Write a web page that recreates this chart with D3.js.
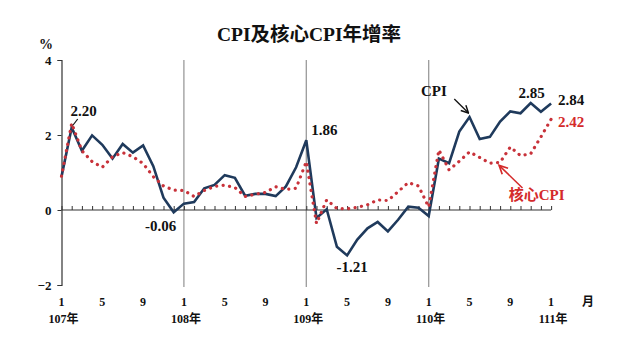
<!DOCTYPE html>
<html><head><meta charset="utf-8">
<script src="https://cdn.jsdelivr.net/npm/d3@7"></script>
<style>
html,body{margin:0;padding:0;background:#fff;}
svg{display:block;}
text{font-family:"Liberation Serif","Times New Roman","Noto Sans CJK TC",serif;font-weight:bold;}
</style></head>
<body>
<script>
// ---- data ----
const yearLabels = ["107年","108年","109年","110年","111年"];
const monthLabels = ["1","5","9"];
const yTicks = [-2, 0, 2, 4];
const cpi = [0.89,2.20,1.58,1.99,1.74,1.37,1.76,1.53,1.72,1.17,0.33,-0.06,
             0.17,0.21,0.58,0.67,0.93,0.86,0.38,0.43,0.43,0.37,0.63,1.14,
             1.86,-0.21,0.02,-0.98,-1.21,-0.79,-0.49,-0.32,-0.57,-0.26,0.09,0.06,
             -0.16,1.37,1.25,2.09,2.48,1.89,1.95,2.36,2.63,2.58,2.85,2.62,
             2.84];
const core = [0.90,2.31,1.58,1.29,1.14,1.42,1.53,1.42,1.24,0.89,0.64,0.53,
              0.52,0.36,0.52,0.63,0.66,0.60,0.36,0.42,0.47,0.62,0.55,0.58,
              1.29,-0.36,0.27,0.04,0.03,0.07,0.14,0.27,0.25,0.49,0.73,0.64,
              0.08,1.60,1.07,1.30,1.55,1.40,1.25,1.27,1.68,1.45,1.50,1.95,
              2.42];

const W = 640, H = 359;
const navy = "#1f3a5c", red = "#d42a2a", grid = "#9a9a9a";
const svg = d3.select("body").append("svg").attr("width", W).attr("height", H);

const x = d3.scaleLinear().domain([0, 48]).range([61.5, 551.1]);
const y = d3.scaleLinear().domain([-2, 4]).range([285, 60]);

const defs = svg.append("defs");
function marker(id, color){
  defs.append("marker").attr("id", id).attr("viewBox","0 0 10 10")
    .attr("refX", 9).attr("refY", 5).attr("markerWidth", 7).attr("markerHeight", 7)
    .attr("orient","auto-start-reverse")
    .append("path").attr("d","M1,1 L9,5 L1,9").attr("fill","none")
    .attr("stroke", color).attr("stroke-width", 1.6);
}
marker("arrB", "#111");
marker("arrR", red);

// title
svg.append("text").attr("x", 309).attr("y", 41).attr("text-anchor","middle")
  .attr("font-size", 19.5).attr("fill","#111").text("CPI及核心CPI年增率");
svg.append("text").attr("x", 46).attr("y", 49).attr("text-anchor","middle")
  .attr("font-size", 14).attr("fill","#111").text("%");

// vertical year separators
svg.append("g").selectAll("line").data([12, 24, 36]).join("line")
  .attr("x1", d => x(d)).attr("x2", d => x(d))
  .attr("y1", y(4)).attr("y2", y(-2) + 2)
  .attr("stroke", grid).attr("stroke-width", 1.3);

// y axis
const yAxis = d3.axisLeft(y).tickValues(yTicks).tickSize(4).tickPadding(6).tickFormat(d3.format("d"));
const gy = svg.append("g").attr("transform", `translate(${x(0)},0)`).call(yAxis);
gy.select(".domain").attr("stroke","#333").attr("stroke-width",1.2);
gy.selectAll(".tick line").attr("stroke","#333");
gy.selectAll(".tick text").attr("font-size", 13).attr("fill","#111")
  .style("font-family",'"Liberation Serif",serif').style("font-weight","bold");

// x axis at zero with upward month ticks
const xAxis = d3.axisTop(x).tickValues(d3.range(0, 49)).tickSize(4).tickFormat("");
const gx = svg.append("g").attr("transform", `translate(0,${y(0)})`).call(xAxis);
gx.select(".domain").attr("stroke","#333").attr("stroke-width",1.2).attr("d", `M${x(0)},0H${x(48)}`);
gx.selectAll(".tick line").attr("stroke","#333");

// month labels
const monthIdx = d3.range(0, 49).filter(i => [0,4,8].includes(i % 12));
svg.append("g").selectAll("text").data(monthIdx).join("text")
  .attr("x", d => x(d)).attr("y", 306).attr("text-anchor","middle")
  .attr("font-size", 12).attr("fill","#111")
  .text(d => monthLabels[[0,4,8].indexOf(d % 12)]);
svg.append("text").attr("x", x(48) + 37).attr("y", 306).attr("text-anchor","middle")
  .attr("font-size", 12).attr("fill","#111").text("月");
svg.append("g").selectAll("text").data(yearLabels).join("text")
  .attr("x", (d,i) => x(i*12) + 2).attr("y", 323).attr("text-anchor","middle")
  .attr("font-size", 12).attr("fill","#111").text(d => d);

// lines
const line = d3.line().x((d,i) => x(i)).y(d => y(d));
svg.append("path").datum(cpi).attr("d", line).attr("fill","none")
  .attr("stroke", navy).attr("stroke-width", 2.6).attr("stroke-linejoin","miter");
svg.append("path").datum(core).attr("d", line).attr("fill","none")
  .attr("stroke", "#c8323a").attr("stroke-width", 3.2)
  .attr("stroke-linecap","round").attr("stroke-dasharray","0.1 6.4");

// annotations
function label(txt, xx, yy, color, anchor){
  svg.append("text").attr("x", xx).attr("y", yy).attr("text-anchor", anchor || "middle")
    .attr("font-size", 15).attr("fill", color).text(txt);
}
label("2.20", x(1) + 12, 116, "#111");
svg.append("line").attr("x1", x(1) + 6).attr("y1", 119).attr("x2", x(1) + 1).attr("y2", y(2.20) - 2)
  .attr("stroke","#111").attr("stroke-width",1.2);
label("-0.06", x(11) - 13, 231, "#111");
label("1.86", x(24) + 18, 135, "#111");
label("-1.21", x(28) + 5, 272, "#111");
label("CPI", x(37) - 5, 96, "#111");
svg.append("line").attr("x1", x(39) - 5).attr("y1", 99).attr("x2", x(40) - 1).attr("y2", y(2.48) - 4)
  .attr("stroke","#111").attr("stroke-width",1.3).attr("marker-end","url(#arrB)");
label("2.85", x(46) + 1, 98, "#111");
label("2.84", x(48) + 7, 105, "#111", "start");
label("2.42", x(48) + 7, 127, red, "start");
label("核心CPI", x(46) + 6, 200, red);
svg.append("line").attr("x1", x(45) + 2).attr("y1", 188).attr("x2", x(43) - 1).attr("y2", y(1.27) + 3)
  .attr("stroke", red).attr("stroke-width",1.5).attr("marker-end","url(#arrR)");
</script>
</body></html>
